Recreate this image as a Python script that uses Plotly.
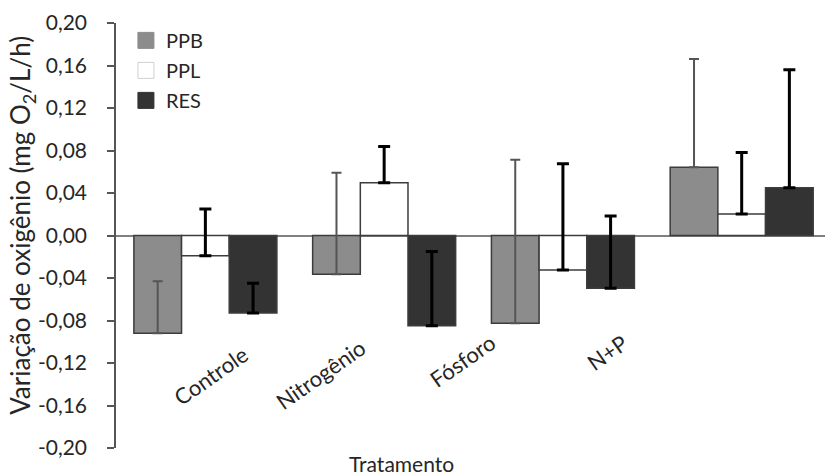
import plotly.graph_objects as go

categories = ["Controle", "Nitrogênio", "Fósforo", "N+P"]
series_names = ["PPB", "PPL", "RES"]
ppb = [-0.092, -0.0365, -0.0827, 0.0642]
ppb_err = [0.049, 0.0955, 0.154, 0.102]
ppl = [-0.019, 0.0497, -0.0325, 0.0202]
ppl_err = [0.044, 0.034, 0.100, 0.058]
res = [-0.073, -0.085, -0.0497, 0.045]
res_err = [0.028, 0.070, 0.068, 0.111]
y_tickvals = [-0.20, -0.16, -0.12, -0.08, -0.04, 0.0, 0.04, 0.08, 0.12, 0.16, 0.20]
y_ticktext = ["-0,20", "-0,16", "-0,12", "-0,08", "-0,04", "0,00", "0,04", "0,08", "0,12", "0,16", "0,20"]

FONT = "Lato, 'Open Sans', sans-serif"
TXT = "#262626"
fills = ["#8c8c8c", "#ffffff", "#333333"]
err_styles = [dict(color="#555555", thickness=2, width=5),
              dict(color="#000000", thickness=3, width=6),
              dict(color="#000000", thickness=3, width=6)]

fig = go.Figure()
for name, vals, errs, fill, es in zip(series_names, [ppb, ppl, res], [ppb_err, ppl_err, res_err], fills, err_styles):
    fig.add_trace(go.Bar(
        x=categories, y=vals, name=name, showlegend=False,
        marker=dict(color=fill, line=dict(color="#3c3c3c", width=1.5)),
        error_y=dict(type="data", symmetric=False, array=errs,
                     arrayminus=[0] * len(errs), **es),
    ))
# legend proxies (larger square swatches)
for name, fill in zip(series_names, fills):
    fig.add_trace(go.Scatter(
        x=[None], y=[None], mode="markers", name=name, legendgroup=name,
        marker=dict(symbol="square", size=18, color=fill,
                    line=dict(color="#d0d0d0" if fill == "#ffffff" else fill, width=1)),
    ))

label_pos = {"Controle": (0.134, 0.170), "Nitrogênio": (0.288, 0.174),
             "Fósforo": (0.489, 0.205), "N+P": (0.693, 0.224)}
annotations = []
for c in categories:
    px, py = label_pos[c]
    annotations.append(dict(text=c, xref="paper", yref="paper", x=px, y=py,
                            xanchor="center", yanchor="middle", textangle=-35,
                            showarrow=False, font=dict(family=FONT, size=22, color=TXT)))
annotations.append(dict(text="Tratamento", xref="paper", yref="paper", x=0.403, y=-0.036,
                        xanchor="center", yanchor="middle", showarrow=False,
                        font=dict(family=FONT, size=21, color=TXT)))
annotations.append(dict(text="Variação de oxigênio (mg O<sub>2</sub>/L/h)", xref="paper", yref="paper",
                        x=-0.1326, y=0.525, xanchor="center", yanchor="middle", textangle=-90,
                        showarrow=False, font=dict(family=FONT, size=26, color=TXT)))

fig.update_layout(
    width=825, height=476,
    margin=dict(l=116, r=0, t=23, b=28, autoexpand=False),
    paper_bgcolor="white", plot_bgcolor="white",
    barmode="group", bargap=0.2, bargroupgap=0,
    font=dict(family=FONT, size=18, color=TXT),
    showlegend=True,
    legend=dict(x=0.014, y=1.005, xanchor="left", yanchor="top",
                bgcolor="rgba(0,0,0,0)", font=dict(family=FONT, size=20, color=TXT),
                tracegroupgap=1, traceorder="grouped"),
    annotations=annotations,
)
fig.update_xaxes(range=[-0.5, 3.466], showticklabels=False, showline=False, automargin=False,
                 ticks="", showgrid=False, zeroline=False)
fig.update_yaxes(range=[-0.2, 0.2], tickvals=y_tickvals, ticktext=y_ticktext, automargin=False,
                 showgrid=False, zeroline=True, zerolinecolor="#808080", zerolinewidth=1.5,
                 showline=True, linecolor="#555555", linewidth=1.5,
                 ticks="outside", ticklen=7, tickwidth=1.5, tickcolor="#555555",
                 ticklabelstandoff=16,
                 tickfont=dict(family=FONT, size=21, color=TXT))

fig.write_html("out.html", config={"displayModeBar": False},
               post_script="document.body.style.margin='0';document.body.style.overflow='hidden';")
